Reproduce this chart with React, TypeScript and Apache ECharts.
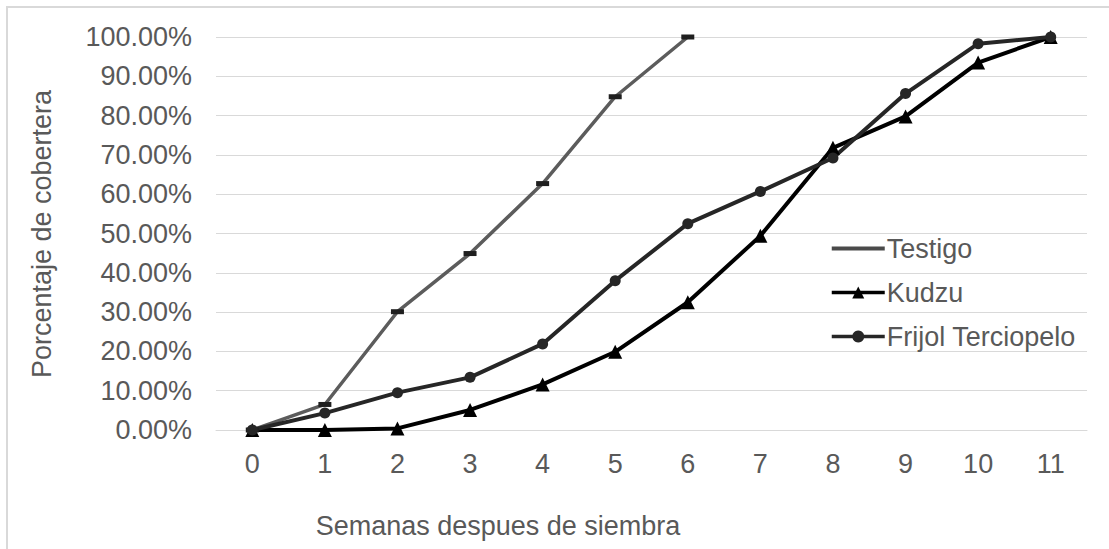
import React, { useEffect, useRef } from "react";
import * as echarts from "echarts";

// Weeks after sowing (x categories)
const weeks = ["0", "1", "2", "3", "4", "5", "6", "7", "8", "9", "10", "11"];

// Cover percentage per treatment
const testigo = [0, 6.5, 30.1, 44.9, 62.7, 84.8, 100];
const kudzu = [0, 0, 0.4, 5.1, 11.6, 19.9, 32.5, 49.4, 71.8, 79.8, 93.5, 100];
const frijol = [0, 4.3, 9.5, 13.4, 21.9, 38.0, 52.5, 60.7, 69.2, 85.6, 98.3, 100];

const seriesNames = ["Testigo", "Kudzu", "Frijol Terciopelo"];
const xTitle = "Semanas despues de siembra";
const yTitle = "Porcentaje de cobertera";

const FONT = "'Liberation Sans', Arial, sans-serif";
const FS = 27;
const TEXT = "#595959";
const GRID = "#d9d9d9";

// Legend icon for the control series: a plain thick bar
const barIcon = "path://M0,0 L53,0 L53,4 L0,4 Z";

export default function App() {
  const ref = useRef<HTMLDivElement>(null);

  useEffect(() => {
    document.body.style.margin = "0";
    if (!ref.current) return;
    const chart = echarts.init(ref.current, undefined, { renderer: "svg" });
    chart.setOption({
      animation: false,
      backgroundColor: "#ffffff",
      textStyle: { fontFamily: FONT },
      grid: { left: 216, right: 22, top: 37, bottom: 119, containLabel: false },
      legend: {
        orient: "vertical",
        left: 825,
        top: 228,
        itemWidth: 53,
        itemHeight: 15,
        itemGap: 13,
        lineStyle: { width: 3.5 },
        data: [
          { name: seriesNames[0], icon: barIcon, itemStyle: { color: "#4a4a4a" } },
          { name: seriesNames[1] },
          { name: seriesNames[2] },
        ],
        textStyle: { color: TEXT, fontSize: FS, fontFamily: FONT, lineHeight: 31, padding: [0, 0, 0, -3] },
      },
      xAxis: {
        type: "category",
        data: weeks,
        boundaryGap: true,
        axisTick: { show: false },
        axisLine: { show: true, lineStyle: { color: GRID, width: 1 } },
        axisLabel: { color: TEXT, fontSize: FS, fontFamily: FONT, margin: 20 },
      },
      yAxis: {
        type: "value",
        min: 0,
        max: 100,
        interval: 10,
        axisLine: { show: false },
        axisTick: { show: false },
        splitLine: { lineStyle: { color: GRID, width: 1 } },
        axisLabel: {
          color: TEXT,
          fontSize: FS,
          fontFamily: FONT,
          margin: 24,
          formatter: (v: number) => v.toFixed(2) + "%",
        },
      },
      graphic: [
        {
          type: "rect",
          shape: { x: 7, y: 7, width: 1200, height: 700 },
          style: { fill: "none", stroke: GRID, lineWidth: 2 },
          silent: true,
        },
        {
          type: "text",
          x: 498,
          y: 526,
          style: {
            text: xTitle,
            fill: TEXT,
            fontSize: FS,
            fontFamily: FONT,
            textAlign: "center",
            textVerticalAlign: "middle",
          },
        },
        {
          type: "text",
          x: 42,
          y: 234,
          rotation: Math.PI / 2,
          style: {
            text: yTitle,
            fill: TEXT,
            fontSize: FS,
            fontFamily: FONT,
            textAlign: "center",
            textVerticalAlign: "middle",
          },
        },
      ],
      series: [
        {
          name: seriesNames[0],
          type: "line",
          data: testigo,
          symbol: "rect",
          symbolSize: [13, 5],
          lineStyle: { color: "#5c5c5c", width: 3.5 },
          itemStyle: { color: "#1f1f1f" },
        },
        {
          name: seriesNames[1],
          type: "line",
          data: kudzu,
          symbol: "triangle",
          symbolSize: 14,
          lineStyle: { color: "#000000", width: 4 },
          itemStyle: { color: "#000000" },
        },
        {
          name: seriesNames[2],
          type: "line",
          data: frijol,
          symbol: "circle",
          symbolSize: 11,
          lineStyle: { color: "#262626", width: 4 },
          itemStyle: { color: "#262626" },
        },
      ],
    });
    return () => chart.dispose();
  }, []);

  return <div ref={ref} style={{ width: 1109, height: 549 }} />;
}
